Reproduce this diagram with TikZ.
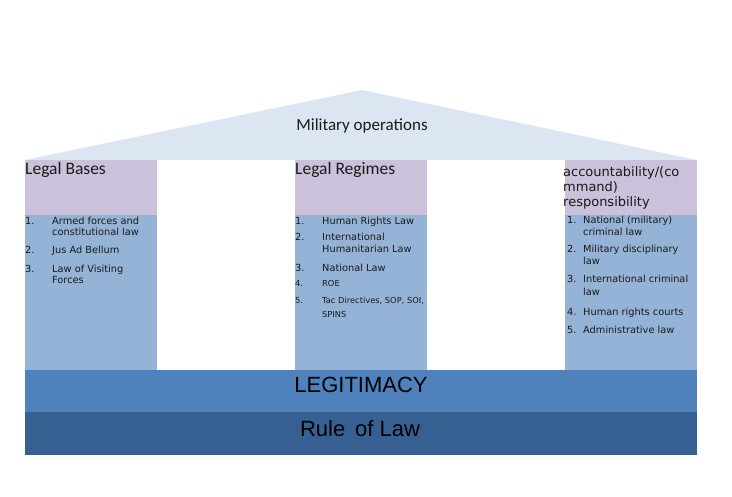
\documentclass[tikz,border=0pt]{standalone}
\usepackage{fontspec}
\setmainfont{Carlito}
\newfontfamily\verd{DejaVu Sans}
\newfontfamily\tah{Liberation Sans}
\definecolor{roofc}{HTML}{DCE6F2}
\definecolor{headc}{HTML}{CCC1DA}
\definecolor{bodyc}{HTML}{95B3D7}
\definecolor{legc}{HTML}{4F81BD}
\definecolor{rolc}{HTML}{376092}
\definecolor{txt}{HTML}{1A1A1A}
\tikzset{
  band/.style={anchor=north west, inner sep=0pt, outer sep=0pt, draw=none},
  lst/.style={anchor=base west, inner sep=0pt, text=txt, font=\verd\fontsize{9.8}{11}\selectfont},
  lsts/.style={lst, font=\verd\fontsize{8.3}{10}\selectfont},
  head/.style={anchor=base west, inner sep=0pt, text=txt, font=\fontsize{17.5}{19}\selectfont},
  rhead/.style={anchor=base west, inner sep=0pt, text=txt, font=\verd\fontsize{13}{15}\selectfont},
  bigtxt/.style={anchor=base, inner sep=0pt, text=black, font=\tah\fontsize{22}{24}\selectfont},
}
\begin{document}
\begin{tikzpicture}[x=1pt,y=-1pt]
\useasboundingbox (0,0) rectangle (732,497);
\fill[white] (0,0) rectangle (732,497);
% roof
\fill[roofc] (25,160) -- (362,90) -- (697,160) -- cycle;
\node[anchor=base, inner sep=0pt, text=txt, font=\fontsize{17}{19}\selectfont] (mil) at (362,131) {Military operations};
% columns
\node[band, fill=headc, minimum width=132pt, minimum height=55pt] (h1) at (25,160) {};
\node[band, fill=bodyc, minimum width=132pt, minimum height=155pt] (b1) at (25,215) {};
\node[band, fill=headc, minimum width=132pt, minimum height=55pt] (h2) at (295,160) {};
\node[band, fill=bodyc, minimum width=132pt, minimum height=155pt] (b2) at (295,215) {};
\node[band, fill=headc, minimum width=132pt, minimum height=55pt] (h3) at (565,160) {};
\node[band, fill=bodyc, minimum width=132pt, minimum height=155pt] (b3) at (565,215) {};
% bands
\node[band, fill=legc, minimum width=672pt, minimum height=42pt] (leg) at (25,370) {};
\node[band, fill=rolc, minimum width=672pt, minimum height=43pt] (rol) at (25,412) {};
\node[bigtxt] (legt) at (361,393) {LEGITIMACY};
\node[bigtxt] (rolt) at (360,436) {Rule\, of Law};
% headers
\node[head] (t1) at (25,175) {Legal Bases};
\node[head] (t2) at (295,175) {Legal Regimes};
\node[rhead] (t3a) at (563,177) {accountability/(co};
\node[rhead] (t3b) at (563,192) {mmand)};
\node[rhead] (t3c) at (563,207) {responsibility};
% left list
\node[lst] (n11) at (25,225) {1.};
\node[lst] (l11) at (52,225) {Armed forces and};
\node[lst] (l11b) at (52,236) {constitutional law};
\node[lst] (n12) at (25,254) {2.};
\node[lst] (l12) at (52,254) {Jus Ad Bellum};
\node[lst] (n13) at (25,273) {3.};
\node[lst] (l13) at (52,273) {Law of Visiting};
\node[lst] (l13b) at (52,284) {Forces};
% middle list
\node[lst] (n21) at (295,225) {1.};
\node[lst] (l21) at (322,225) {Human Rights Law};
\node[lst] (n22) at (295,241) {2.};
\node[lst] (l22) at (322,241) {International};
\node[lst] (l22b) at (322,253) {Humanitarian Law};
\node[lst] (n23) at (295,272) {3.};
\node[lst] (l23) at (322,272) {National Law};
\node[lsts] (n24) at (295,287) {4.};
\node[lsts] (l24) at (322,287) {ROE};
\node[lsts] (n25) at (295,304) {5.};
\node[lsts] (l25) at (322,304) {Tac Directives, SOP, SOI,};
\node[lsts] (l25b) at (322,318) {SPINS};
% right list
\node[lst] (n31) at (567,224) {1.};
\node[lst] (l31) at (583,224) {National (military)};
\node[lst] (l31b) at (583,236) {criminal law};
\node[lst] (n32) at (567,253) {2.};
\node[lst] (l32) at (583,253) {Military disciplinary};
\node[lst] (l32b) at (583,265) {law};
\node[lst] (n33) at (567,283) {3.};
\node[lst] (l33) at (583,283) {International criminal};
\node[lst] (l33b) at (583,296) {law};
\node[lst] (n34) at (567,316) {4.};
\node[lst] (l34) at (583,316) {Human rights courts};
\node[lst] (n35) at (567,334) {5.};
\node[lst] (l35) at (583,334) {Administrative law};
\end{tikzpicture}
\end{document}
